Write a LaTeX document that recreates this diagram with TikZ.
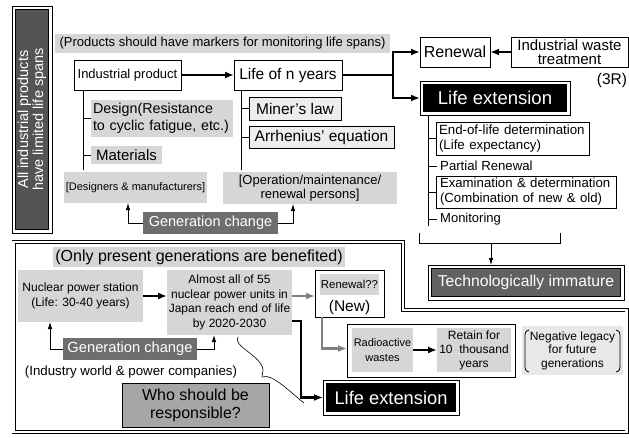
\documentclass[tikz,border=0pt]{standalone}
\usepackage{fontspec}
\setmainfont{Liberation Sans}
\usetikzlibrary{arrows.meta,calc}
\definecolor{lgray}{gray}{0.84}
\definecolor{dgray}{gray}{0.43}
\definecolor{vfill}{gray}{0.33}
\definecolor{tfill}{gray}{0.38}
\definecolor{wfill}{gray}{0.65}
\definecolor{mfill}{gray}{0.93}
\definecolor{nfill}{gray}{0.91}
\definecolor{agray}{gray}{0.5}
\newcommand\myfs[2]{\fontsize{#1}{#2}\selectfont}
\begin{document}
\begin{tikzpicture}[x=1pt,y=-1pt,
  bx/.style={rectangle, inner sep=0pt, outer sep=0pt, line width=0.8pt},
  lg/.style={bx, fill=lgray},
  wb/.style={bx, draw, fill=white},
  dblo/.style={bx, draw, fill=white, line width=0.9pt},
  dbli/.style={bx, draw, line width=0.9pt},
  sz/.style 2 args={minimum width=#1, minimum height=#2},
  thn/.style={line width=0.8pt},
  thk/.style={line width=2.2pt},
  thkarr/.style={line width=2.2pt, -{Latex[length=9pt,width=7pt]}},
  thinarr/.style={line width=0.8pt, -{Latex[length=7pt,width=4.5pt]}},
  grayarr/.style={line width=2.2pt, draw=agray, -{Latex[length=9pt,width=7pt]}, color=agray}
]
\useasboundingbox (0,0) rectangle (629,437);

% ---------- top part ----------
\node[dblo, sz={40}{227}] (allprodO) at (32,119.5) {};
\node[dbli, fill=vfill, sz={33.5}{220.5}] (allprod) at (32,119.5) {};
\node[rotate=90, text=white, align=center, font=\myfs{14.5}{15}] (allprodtxt) at (allprod.center) {All industrial products\\have limited life spans};

\node[lg, sz={335}{19}, font=\myfs{13}{15}] (band1) at (222.5,43.5) {(Products should have markers for monitoring life spans)};
\node[wb, sz={107}{30}, font=\myfs{13}{15}] (ind) at (127.5,75) {Industrial product};
\node[wb, sz={108}{30}, font=\myfs{15.5}{17}] (life) at (288,75) {Life of n years};

\node[lg, sz={142}{37}, text width=138, align=left, font=\myfs{14.3}{17}] (design) at (162,118.5) {Design(Resistance\\to cyclic fatigue, etc.)};
\node[lg, sz={71}{18}, font=\myfs{15}{17}] (materials) at (126.5,155) {Materials};
\node[lg, sz={143}{31}, font=\myfs{11}{13}] (designers) at (135.5,187.5) {[Designers \& manufacturers]};

\node[bx, draw, fill=mfill, sz={92}{23}, font=\myfs{15.5}{17}] (miner) at (295,108.5) {Miner's law};
\node[bx, draw, fill=mfill, sz={145}{22}, font=\myfs{15.5}{17}] (arrh) at (321.5,137) {Arrhenius' equation};
\node[lg, sz={174}{32}, align=center, font=\myfs{13}{14}] (oper) at (310,188) {[Operation/maintenance/\\renewal persons]};

\node[bx, fill=dgray, text=white, sz={135}{22}, font=\myfs{14.5}{16}] (gen1) at (210.5,223) {Generation change};

\node[wb, sz={70}{30}, font=\myfs{16}{18}] (renewal) at (455,52) {Renewal};
\node[wb, sz={117}{30}, align=center, font=\myfs{15}{13.5}] (waste) at (569.5,52) {Industrial waste\\treatment};
\node[inner sep=0pt, font=\myfs{15.5}{17}] (threeR) at (612,80) {(3R)};

\node[dblo, sz={150}{34}] (lifeextO) at (495,98) {};
\node[dbli, fill=black, text=white, sz={143.5}{27.5}, font=\myfs{18.5}{20}] (lifeext) at (495,98) {Life extension};

\node[wb, sz={153}{33}, text width=147, align=left, font=\myfs{13.3}{15}] (endlife) at (512.5,138.5) {End-of-life determination\\(Life expectancy)};
\node[anchor=west, inner sep=0pt, font=\myfs{13.2}{15}] (partial) at (440,166) {Partial Renewal};
\node[wb, sz={180}{32}, text width=172, align=left, font=\myfs{13.2}{15}] (exam) at (526,192) {Examination \& determination\\(Combination of new \& old)};
\node[anchor=west, inner sep=0pt, font=\myfs{13}{15}] (monitor) at (440,219) {Monitoring};

\node[dblo, sz={196}{35}] (techO) at (526,282.5) {};
\node[dbli, fill=tfill, text=white, sz={189.5}{28.5}, font=\myfs{15.7}{17}] (tech) at (526,282.5) {Technologically immature};

% top connectors
\draw[thkarr] (ind.east) -- (life.west);
\coordinate (ls1) at (83,90); \coordinate (ls2) at (83,170);
\draw[thn] (ls1) -- (ls2);
\draw[thn] (ls1 |- design.west) -- (design.west);
\draw[thn] (ls1 |- materials.west) -- (materials.west);
\coordinate (ms1) at (241,90); \coordinate (ms2) at (241,170);
\draw[thn] (ms1) -- (ms2);
\draw[thn] (ms1 |- miner.west) -- (miner.west);
\draw[thn] (ms1 |- arrh.west) -- (arrh.west);

\draw[thinarr] (gen1.west) -| ([xshift=-7.5pt]designers.south);
\draw[thinarr] (gen1.east) -| ([xshift=-17pt]oper.south);

\coordinate (br) at (393,75);
\draw[thk] (life.east) -- (br);
\draw[thkarr] (br) |- (renewal.west);
\draw[thkarr] (br) |- (lifeextO.west);
\draw[thkarr] (waste.west) -- (renewal.east);

\coordinate (rs1) at (428,115); \coordinate (rs2) at (428,226);
\draw[thn] (rs1) -- (rs2);
\draw[thn] (rs1 |- endlife.west) -- (endlife.west);
\draw[thn] (rs1 |- partial.west) -- ([xshift=-3pt]partial.west);
\draw[thn] (rs1 |- exam.west) -- (exam.west);
\draw[thn] (rs1 |- monitor.west) -- ([xshift=-3pt]monitor.west);

\coordinate (bkl) at (419,233); \coordinate (bkr) at (560,233); \coordinate (bkm) at (491,243);
\draw[thn] (bkl) |- (bkr |- bkm) -- (bkr);
\draw[thinarr] (bkm) -- (bkm |- techO.north);

% ---------- bottom part ----------
\draw[line width=0.8pt, double=white, double distance=2.4pt]
  (13.5,242) -- (403,242) -- (403,310) -- (626.5,310) -- (626.5,432) -- (13.5,432) -- cycle;

\node[lg, sz={292}{20}, font=\myfs{16}{18}] (band2) at (199,257) {(Only present generations are benefited)};
\node[lg, sz={125}{52}, align=center, font=\myfs{12}{15}] (nuclear) at (80.5,296) {Nuclear power station\\(Life: 30-40 years)};
\node[lg, sz={125}{65}, align=center, font=\myfs{12}{14.5}] (almost) at (229.5,302.5) {Almost all of 55\\nuclear power units in\\Japan reach end of life\\by 2020-2030};

\node[wb, sz={69}{47}] (renew2) at (349.5,293.5) {};
\node[lg, sz={59}{21}, font=\myfs{11.4}{13}] (renq) at (349.5,284) {Renewal??};
\node[inner sep=0pt, font=\myfs{15.5}{17}] (new) at (349.5,307) {(New)};

\node[wb, sz={168}{53}] (group) at (431,350.5) {};
\node[lg, sz={61}{44}, align=center, font=\myfs{11}{15}] (radio) at (382.5,350) {Radioactive\\wastes};
\node[lg, sz={74}{44}, align=center, font=\myfs{12}{14}] (retain) at (474,350) {Retain for\\10\ \ thousand\\years};
\node[bx, fill=nfill, sz={101}{49}, align=center, font=\myfs{12}{13.5}] (neg) at (572.5,350.5) {Negative legacy\\for future\\generations};
\draw[thn] (529,330) .. controls (525,331) and (525,333) .. (525,338) -- (525,364) .. controls (525,369) and (525,371) .. (529,372);
\draw[thn] (616,330) .. controls (620,331) and (620,333) .. (620,338) -- (620,364) .. controls (620,369) and (620,371) .. (616,372);

\node[dblo, sz={136}{35}] (lifeext2O) at (391,397.5) {};
\node[dbli, fill=black, text=white, sz={129.5}{28.5}, font=\myfs{18.3}{20}] (lifeext2) at (391,397.5) {Life extension};

\node[bx, fill=dgray, text=white, sz={134}{22}, font=\myfs{14.7}{16}] (gen2) at (130,349) {Generation change};
\node[inner sep=0pt, font=\myfs{13.3}{15}] (industry) at (131,372) {(Industry world \& power companies)};
\node[bx, draw, fill=wfill, sz={147}{44}, align=center, font=\myfs{16}{18}] (who) at (195.5,405) {Who should be\\responsible?};

% bottom connectors
\draw[thkarr] (nuclear.east) -- (nuclear.east -| almost.west);
\coordinate (ga) at ([yshift=6.5pt]almost.east);
\draw[grayarr] (ga) -- (ga -| renew2.west);
\draw[grayarr] ([xshift=-27.5pt]renew2.south) |- ([yshift=2pt]group.west);
\draw[thkarr] (radio.east) -- (retain.west);
\draw[thkarr] ([yshift=-18.5pt]almost.east) -- ++(9,0) |- (lifeext2O.west);

\draw[thinarr] (gen2.west) -| ([xshift=-30.5pt]nuclear.south);
\draw[thinarr] (gen2.east) -| ([xshift=-15.5pt]almost.south);

% brace
\coordinate (bra) at (238,337); \coordinate (brm) at (262,377); \coordinate (brb) at (304,403);
\draw[line width=0.6pt] (bra) .. controls (232,346) and (262,356) .. (263,370) -- (brm);
\draw[line width=0.6pt] (brm) .. controls (272,373) and (290,392) .. (brb);
\end{tikzpicture}
\end{document}
